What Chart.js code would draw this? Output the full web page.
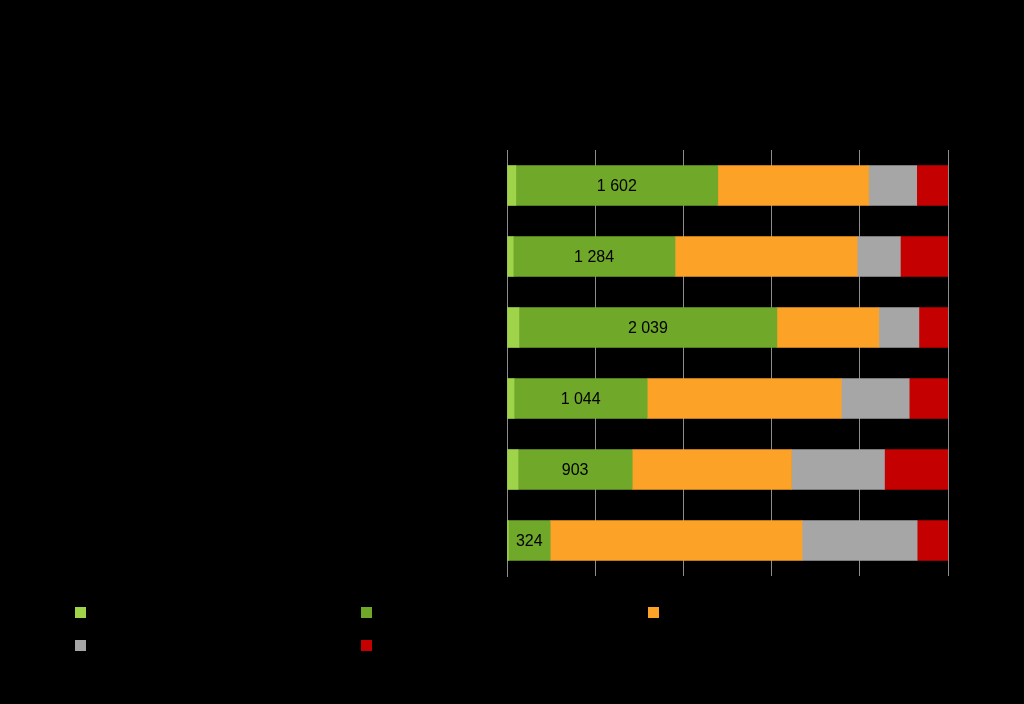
<!DOCTYPE html>
<html>
<head>
<meta charset="utf-8">
<script src="https://cdn.jsdelivr.net/npm/chart.js@4/dist/chart.umd.min.js"></script>
<style>
  html, body { margin: 0; padding: 0; background: #000; }
  #wrap { position: relative; width: 1024px; height: 704px; }
  #legend { position: absolute; left: 0; top: 0; font-family: "Liberation Sans", Arial, sans-serif; font-size: 13px; color: #000; }
  .item { position: absolute; height: 12px; line-height: 12px; white-space: nowrap; }
  .item span.box { display: inline-block; width: 11px; height: 11px; vertical-align: top; margin-right: 6px; }
</style>
</head>
<body>
<div id="wrap">
  <canvas id="myChart" width="1024" height="704"></canvas>
  <div id="legend"></div>
</div>
<script>
// categories (text is black on black in the reference, not readable)
const categories = ['Kategorie 1', 'Kategorie 2', 'Kategorie 3', 'Kategorie 4', 'Kategorie 5', 'Kategorie 6'];
const seriesNames = ['Série 1', 'Série 2', 'Série 3', 'Série 4', 'Série 5'];
const seriesColors = ['#9fd34a', '#70a82a', '#fca327', '#a6a6a6', '#c40000'];

// shares in %
const lightGreen = [2.0, 1.4, 2.7, 1.6, 2.5, 0.3];
const green      = [45.8, 36.7, 58.5, 30.2, 25.9, 9.5];
const orange     = [34.2, 41.3, 23.1, 44.0, 36.1, 57.1];
const grey       = [10.9, 9.8, 9.1, 15.4, 21.1, 26.1];
const red        = [7.1, 10.8, 6.6, 8.8, 14.4, 7.0];

// counts printed on the green segment
const greenCounts = ['1 602', '1 284', '2 039', '1 044', '903', '324'];

const xTicks = [0, 20, 40, 60, 80, 100];

const allSeries = [lightGreen, green, orange, grey, red];

const greenLabels = {
    id: 'greenLabels',
    afterDatasetsDraw(chart) {
        const c = chart.ctx;
        const meta = chart.getDatasetMeta(1);
        c.save();
        c.font = '16px "Liberation Sans", Arial, sans-serif';
        c.fillStyle = '#000';
        c.textAlign = 'center';
        c.textBaseline = 'middle';
        meta.data.forEach(function (bar, i) {
            const x = (bar.x + bar.base) / 2;
            c.fillText(greenCounts[i], x, bar.y + 1);
        });
        c.restore();
    }
};

const ctx = document.getElementById('myChart');
const myChart = new Chart(ctx, {
    type: 'bar',
    data: {
        labels: categories,
        datasets: allSeries.map(function (d, i) {
            return {
                label: seriesNames[i],
                data: d,
                backgroundColor: seriesColors[i],
                borderWidth: 0,
                barThickness: 40
            };
        })
    },
    options: {
        indexAxis: 'y',
        responsive: false,
        animation: false,
        layout: { padding: { left: 0, top: 150, right: 76, bottom: 128 } },
        plugins: {
            legend: { display: false },
            tooltip: { enabled: false }
        },
        scales: {
            x: {
                stacked: true,
                min: 0,
                max: 100,
                afterBuildTicks: function (scale) {
                    scale.ticks = xTicks.map(function (v) { return { value: v }; });
                },
                ticks: { display: false },
                grid: { color: '#8c8c8c', lineWidth: 1, drawTicks: false },
                border: { display: false },
                afterFit: function (scale) { scale.height = 0; }
            },
            y: {
                stacked: true,
                ticks: { color: '#000', font: { size: 13 } },
                grid: { display: false, drawTicks: false },
                border: { display: true, color: '#8c8c8c' },
                afterFit: function (scale) { scale.width = 507; }
            }
        }
    },
    plugins: [greenLabels]
});

// legend: 3 columns, 2 rows
const legendPos = [[75, 607], [361, 607], [648, 607], [75, 640], [361, 640]];
const legend = document.getElementById('legend');
seriesNames.forEach(function (name, i) {
    const el = document.createElement('div');
    el.className = 'item';
    el.style.left = legendPos[i][0] + 'px';
    el.style.top = legendPos[i][1] + 'px';
    el.innerHTML = '<span class="box" style="background:' + seriesColors[i] + '"></span>' + name;
    legend.appendChild(el);
});
</script>
</body>
</html>
